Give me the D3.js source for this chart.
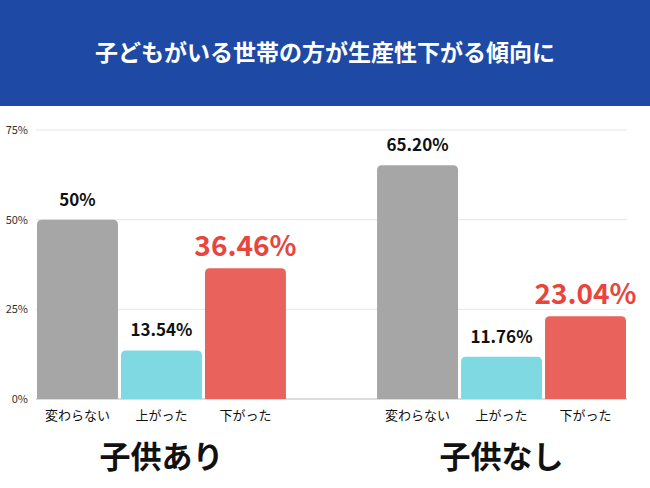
<!DOCTYPE html>
<html><head><meta charset="utf-8">
<script src="https://cdn.jsdelivr.net/npm/d3@7"></script>
<style>body{margin:0;background:#fff}</style></head>
<body><svg id="c" width="650" height="488"></svg>
<script>
const groups = ["子供あり","子供なし"];
const categories = ["変わらない","上がった","下がった"];
const values = [[50,13.54,36.46],[65.20,11.76,23.04]];
const valueLabels = [["50%","13.54%","36.46%"],["65.20%","11.76%","23.04%"]];
const ticks = [0,25,50,75];
const colors = ["#a6a6a6","#7fd9e3","#ea625c"];
const font = "'Noto Sans CJK JP','Noto Sans',sans-serif";
const svg = d3.select("#c");
svg.append("rect").attr("width",650).attr("height",106).attr("fill","#1e4aa6");
svg.append("text").attr("x",325).attr("y",61).attr("text-anchor","middle").attr("fill","#fff")
 .attr("font-family",font).attr("font-weight","bold").attr("font-size",23).text("子どもがいる世帯の方が生産性下がる傾向に");
const y = d3.scaleLinear().domain([0,75]).range([399,130]);
const gx = d3.scaleBand().domain(groups).range([37,626]).paddingInner(0.268);
const x = d3.scaleBand().domain(categories).range([0,gx.bandwidth()]).paddingInner(0.036);
ticks.forEach(t=>{
 svg.append("line").attr("x1",36).attr("x2",627).attr("y1",y(t)).attr("y2",y(t)).attr("stroke",t===0?"#bbb":"#e6e6e6");
 svg.append("text").attr("x",28).attr("y",y(t)+4).attr("text-anchor","end").attr("font-family",font).attr("font-size",11).attr("fill","#333").text(t+"%");
});
groups.forEach((g,gi)=>{
 const G = svg.append("g").attr("transform",`translate(${gx(g)},0)`);
 categories.forEach((c,ci)=>{
  const v=values[gi][ci];
  G.append("path").attr("fill",colors[ci]).attr("d",()=>{
   const x0=x(c),w=x.bandwidth(),y0=y(v),b=y(0),r=5;
   return `M${x0},${b}V${y0+r}Q${x0},${y0} ${x0+r},${y0}H${x0+w-r}Q${x0+w},${y0} ${x0+w},${y0+r}V${b}Z`;
  });
  const red=ci===2;
  G.append("text").attr("x",x(c)+x.bandwidth()/2).attr("y",y(v)-(red?12:14)).attr("text-anchor","middle")
   .attr("font-family",font).attr("font-weight","bold").attr("font-size",red?28:17).attr("fill",red?"#e8453c":"#111").text(valueLabels[gi][ci]);
  G.append("text").attr("x",x(c)+x.bandwidth()/2).attr("y",420).attr("text-anchor","middle")
   .attr("font-family",font).attr("font-size",13).attr("fill","#111").text(c);
 });
 svg.append("text").attr("x",gx(g)+gx.bandwidth()/2).attr("y",468).attr("text-anchor","middle")
  .attr("font-family",font).attr("font-weight","bold").attr("font-size",31).attr("fill","#111").text(g);
});
</script></body></html>
